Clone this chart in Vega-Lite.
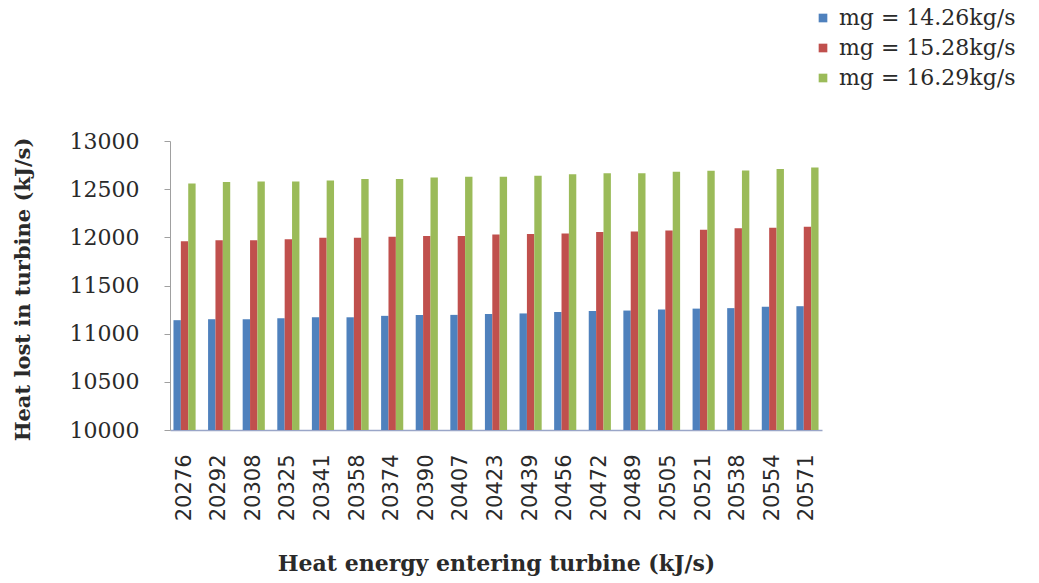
{
  "$schema": "https://vega.github.io/schema/vega-lite/v6.json",
  "autosize": {"type": "none"},
  "width": 652,
  "height": 289,
  "padding": {"left": 170, "top": 141, "right": 217, "bottom": 153},
  "background": "white",
  "config": {
    "view": {"stroke": null},
    "axis": {"grid": false}
  },
  "data": {
    "values": [
      {"q": 20276, "s": "mg = 14.26kg/s", "v": 11140},
      {"q": 20292, "s": "mg = 14.26kg/s", "v": 11150},
      {"q": 20308, "s": "mg = 14.26kg/s", "v": 11150},
      {"q": 20325, "s": "mg = 14.26kg/s", "v": 11160},
      {"q": 20341, "s": "mg = 14.26kg/s", "v": 11170},
      {"q": 20358, "s": "mg = 14.26kg/s", "v": 11170},
      {"q": 20374, "s": "mg = 14.26kg/s", "v": 11185},
      {"q": 20390, "s": "mg = 14.26kg/s", "v": 11195},
      {"q": 20407, "s": "mg = 14.26kg/s", "v": 11195},
      {"q": 20423, "s": "mg = 14.26kg/s", "v": 11205},
      {"q": 20439, "s": "mg = 14.26kg/s", "v": 11210},
      {"q": 20456, "s": "mg = 14.26kg/s", "v": 11225},
      {"q": 20472, "s": "mg = 14.26kg/s", "v": 11235},
      {"q": 20489, "s": "mg = 14.26kg/s", "v": 11240},
      {"q": 20505, "s": "mg = 14.26kg/s", "v": 11250},
      {"q": 20521, "s": "mg = 14.26kg/s", "v": 11260},
      {"q": 20538, "s": "mg = 14.26kg/s", "v": 11265},
      {"q": 20554, "s": "mg = 14.26kg/s", "v": 11280},
      {"q": 20571, "s": "mg = 14.26kg/s", "v": 11285},
      {"q": 20276, "s": "mg = 15.28kg/s", "v": 11960},
      {"q": 20292, "s": "mg = 15.28kg/s", "v": 11970},
      {"q": 20308, "s": "mg = 15.28kg/s", "v": 11970},
      {"q": 20325, "s": "mg = 15.28kg/s", "v": 11980},
      {"q": 20341, "s": "mg = 15.28kg/s", "v": 11995},
      {"q": 20358, "s": "mg = 15.28kg/s", "v": 11995},
      {"q": 20374, "s": "mg = 15.28kg/s", "v": 12005},
      {"q": 20390, "s": "mg = 15.28kg/s", "v": 12015},
      {"q": 20407, "s": "mg = 15.28kg/s", "v": 12015},
      {"q": 20423, "s": "mg = 15.28kg/s", "v": 12030},
      {"q": 20439, "s": "mg = 15.28kg/s", "v": 12035},
      {"q": 20456, "s": "mg = 15.28kg/s", "v": 12040},
      {"q": 20472, "s": "mg = 15.28kg/s", "v": 12055},
      {"q": 20489, "s": "mg = 15.28kg/s", "v": 12060},
      {"q": 20505, "s": "mg = 15.28kg/s", "v": 12070},
      {"q": 20521, "s": "mg = 15.28kg/s", "v": 12080},
      {"q": 20538, "s": "mg = 15.28kg/s", "v": 12095},
      {"q": 20554, "s": "mg = 15.28kg/s", "v": 12100},
      {"q": 20571, "s": "mg = 15.28kg/s", "v": 12110},
      {"q": 20276, "s": "mg = 16.29kg/s", "v": 12560},
      {"q": 20292, "s": "mg = 16.29kg/s", "v": 12575},
      {"q": 20308, "s": "mg = 16.29kg/s", "v": 12580},
      {"q": 20325, "s": "mg = 16.29kg/s", "v": 12580},
      {"q": 20341, "s": "mg = 16.29kg/s", "v": 12590},
      {"q": 20358, "s": "mg = 16.29kg/s", "v": 12605},
      {"q": 20374, "s": "mg = 16.29kg/s", "v": 12605},
      {"q": 20390, "s": "mg = 16.29kg/s", "v": 12620},
      {"q": 20407, "s": "mg = 16.29kg/s", "v": 12630},
      {"q": 20423, "s": "mg = 16.29kg/s", "v": 12630},
      {"q": 20439, "s": "mg = 16.29kg/s", "v": 12640},
      {"q": 20456, "s": "mg = 16.29kg/s", "v": 12655},
      {"q": 20472, "s": "mg = 16.29kg/s", "v": 12665},
      {"q": 20489, "s": "mg = 16.29kg/s", "v": 12665},
      {"q": 20505, "s": "mg = 16.29kg/s", "v": 12680},
      {"q": 20521, "s": "mg = 16.29kg/s", "v": 12690},
      {"q": 20538, "s": "mg = 16.29kg/s", "v": 12695},
      {"q": 20554, "s": "mg = 16.29kg/s", "v": 12710},
      {"q": 20571, "s": "mg = 16.29kg/s", "v": 12725}
    ]
  },
  "mark": {"type": "bar"},
  "encoding": {
    "x": {
      "field": "q",
      "type": "ordinal",
      "scale": {"paddingInner": 0.36, "paddingOuter": 0.1},
      "axis": {
        "title": "Heat energy entering turbine (kJ/s)",
        "titleFont": "DejaVu Serif",
        "titleFontWeight": "bold",
        "titleFontSize": 22,
        "titleColor": "#2a2a2a",
        "titlePadding": 33,
        "labelAngle": 270,
        "labelFont": "DejaVu Sans",
        "labelFontSize": 21,
        "labelColor": "#2a2a2a",
        "labelPadding": 24,
        "ticks": false,
        "domainColor": "#9aa6c8",
        "domainWidth": 1.5
      }
    },
    "xOffset": {"field": "s", "type": "nominal"},
    "y": {
      "field": "v",
      "type": "quantitative",
      "scale": {"domain": [10000, 13000], "zero": false, "nice": false},
      "axis": {
        "values": [10000, 10500, 11000, 11500, 12000, 12500, 13000],
        "format": "d",
        "title": "Heat lost in turbine (kJ/s)",
        "titleFont": "DejaVu Serif",
        "titleFontWeight": "bold",
        "titleFontSize": 21,
        "titleColor": "#2a2a2a",
        "titleX": -137,
        "titleY": 148,
        "titleAnchor": "middle",
        "labelFont": "DejaVu Serif",
        "labelFontSize": 22,
        "labelColor": "#2a2a2a",
        "labelPadding": 25,
        "tickSize": 6,
        "tickColor": "#a0a0a0",
        "domainColor": "#a0a0a0"
      }
    },
    "y2": {"datum": 10000},
    "color": {
      "field": "s",
      "type": "nominal",
      "scale": {"range": ["#4f81bd", "#c0504d", "#9bbb59"]},
      "legend": {
        "title": null,
        "orient": "none",
        "legendX": 642,
        "legendY": -134,
        "symbolType": "square",
        "symbolSize": 75,
        "symbolStrokeWidth": 0,
        "labelFont": "DejaVu Serif",
        "labelFontSize": 22,
        "labelColor": "#2a2a2a",
        "labelOffset": 5,
        "rowPadding": 8,
        "labelLimit": 300
      }
    }
  }
}
